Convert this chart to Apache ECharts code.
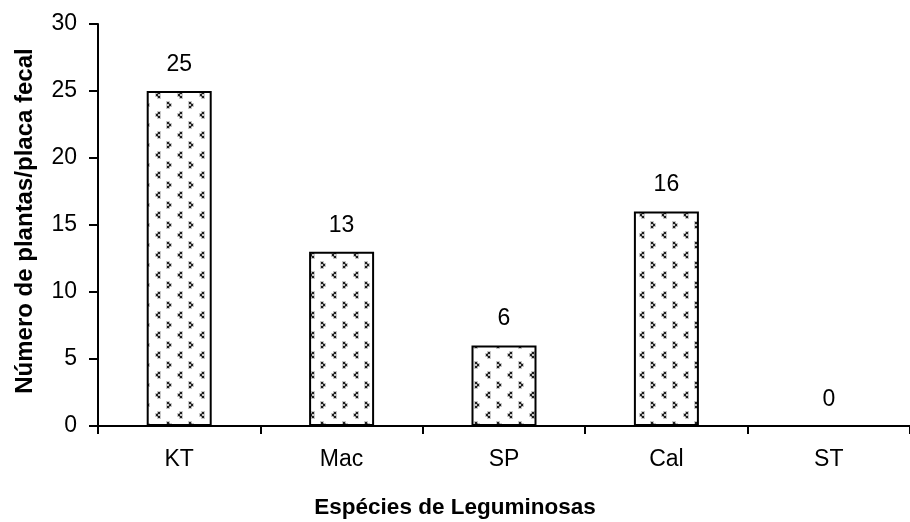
<!DOCTYPE html>
<html>
<head>
<meta charset="utf-8">
<script src="https://cdn.jsdelivr.net/npm/echarts@6/dist/echarts.min.js"></script>
<style>
  html, body { margin: 0; padding: 0; background: #fff; }
  #chart { width: 910px; height: 522px; }
</style>
</head>
<body>
<div id="chart"></div>
<script>
// Leguminous species and number of plants per fecal plate
const categories = ['KT', 'Mac', 'SP', 'Cal', 'ST'];
const plantCounts = [25, 13, 6, 16, 0];
const yTicks = { min: 0, max: 30, interval: 5 };
const yTitle = 'Número de plantas/placa fecal';
const xTitle = 'Espécies de Leguminosas';

const FONT = '"Liberation Sans", Arial, sans-serif';

// Dotted chevron fill tile ("<" and ">" marks in a staggered grid)
function makeTile() {
  const w = 22, h = 20;
  const c = document.createElement('canvas');
  c.width = w; c.height = h;
  const g = c.getContext('2d');
  g.fillStyle = '#fff';
  g.fillRect(0, 0, w, h);
  function chevron(cx, cy, dir) {
    // dir = -1 for "<", +1 for ">"
    const x0 = cx - 2, y0 = cy - 3;
    const outer = dir < 0 ? x0 + 2 : x0;
    const inner = dir < 0 ? x0 : x0 + 2;
    // soft halo
    g.fillStyle = '#c8c8c8';
    g.fillRect(outer - 1, y0 - 1, 4, 4);
    g.fillRect(inner - 1, y0 + 1, 4, 4);
    g.fillRect(outer - 1, y0 + 3, 4, 4);
    g.fillStyle = '#777';
    g.fillRect(x0 + 1, y0 + 1, 2, 1);
    g.fillRect(x0 + 1, y0 + 4, 2, 1);
    // dark dots
    g.fillStyle = '#1e1e1e';
    g.fillRect(outer, y0, 2, 2);
    g.fillRect(inner, y0 + 2, 2, 2);
    g.fillRect(outer, y0 + 4, 2, 2);
  }
  chevron(4, 15, -1);
  chevron(15, 5, 1);
  return c;
}
const tile = makeTile();

const chart = echarts.init(document.getElementById('chart'), null, { renderer: 'canvas' });

chart.setOption({
  animation: false,
  backgroundColor: '#fff',
  grid: { left: 98, right: -9, top: 24, bottom: 96, containLabel: false },
  title: {
    text: xTitle,
    left: 'center',
    top: 491,
    textStyle: { fontFamily: FONT, fontSize: 22.5, fontWeight: 'bold', color: '#000' }
  },
  graphic: [{
    type: 'text',
    x: 25,
    y: 221,
    rotation: Math.PI / 2,
    style: {
      text: yTitle,
      fontFamily: FONT,
      fontSize: 24,
      fontWeight: 'bold',
      fill: '#000',
      align: 'center',
      verticalAlign: 'middle'
    }
  }],
  xAxis: {
    type: 'category',
    data: categories,
    boundaryGap: true,
    axisLine: { lineStyle: { color: '#000', width: 2 } },
    axisTick: { show: true, length: 8, inside: false, lineStyle: { color: '#000', width: 2 } },
    axisLabel: { color: '#000', fontFamily: FONT, fontSize: 23, margin: 22 },
    splitLine: { show: false }
  },
  yAxis: {
    type: 'value',
    min: yTicks.min,
    max: yTicks.max,
    interval: yTicks.interval,
    axisLine: { show: true, lineStyle: { color: '#000', width: 2 } },
    axisTick: { show: true, length: 9, inside: false, lineStyle: { color: '#000', width: 2 } },
    axisLabel: { color: '#000', fontFamily: FONT, fontSize: 23, margin: 21 },
    splitLine: { show: false }
  },
  series: [{
    type: 'bar',
    barWidth: 65,
    data: plantCounts.map(v => ({
      value: v,
      itemStyle: { borderWidth: v > 0 ? 2 : 0 }
    })),
    itemStyle: {
      color: { image: tile, repeat: 'repeat' },
      borderColor: '#000',
      borderWidth: 2
    },
    label: {
      show: true,
      position: 'top',
      distance: 15,
      color: '#000',
      fontFamily: FONT,
      fontSize: 23
    }
  }]
});
</script>
</body>
</html>
